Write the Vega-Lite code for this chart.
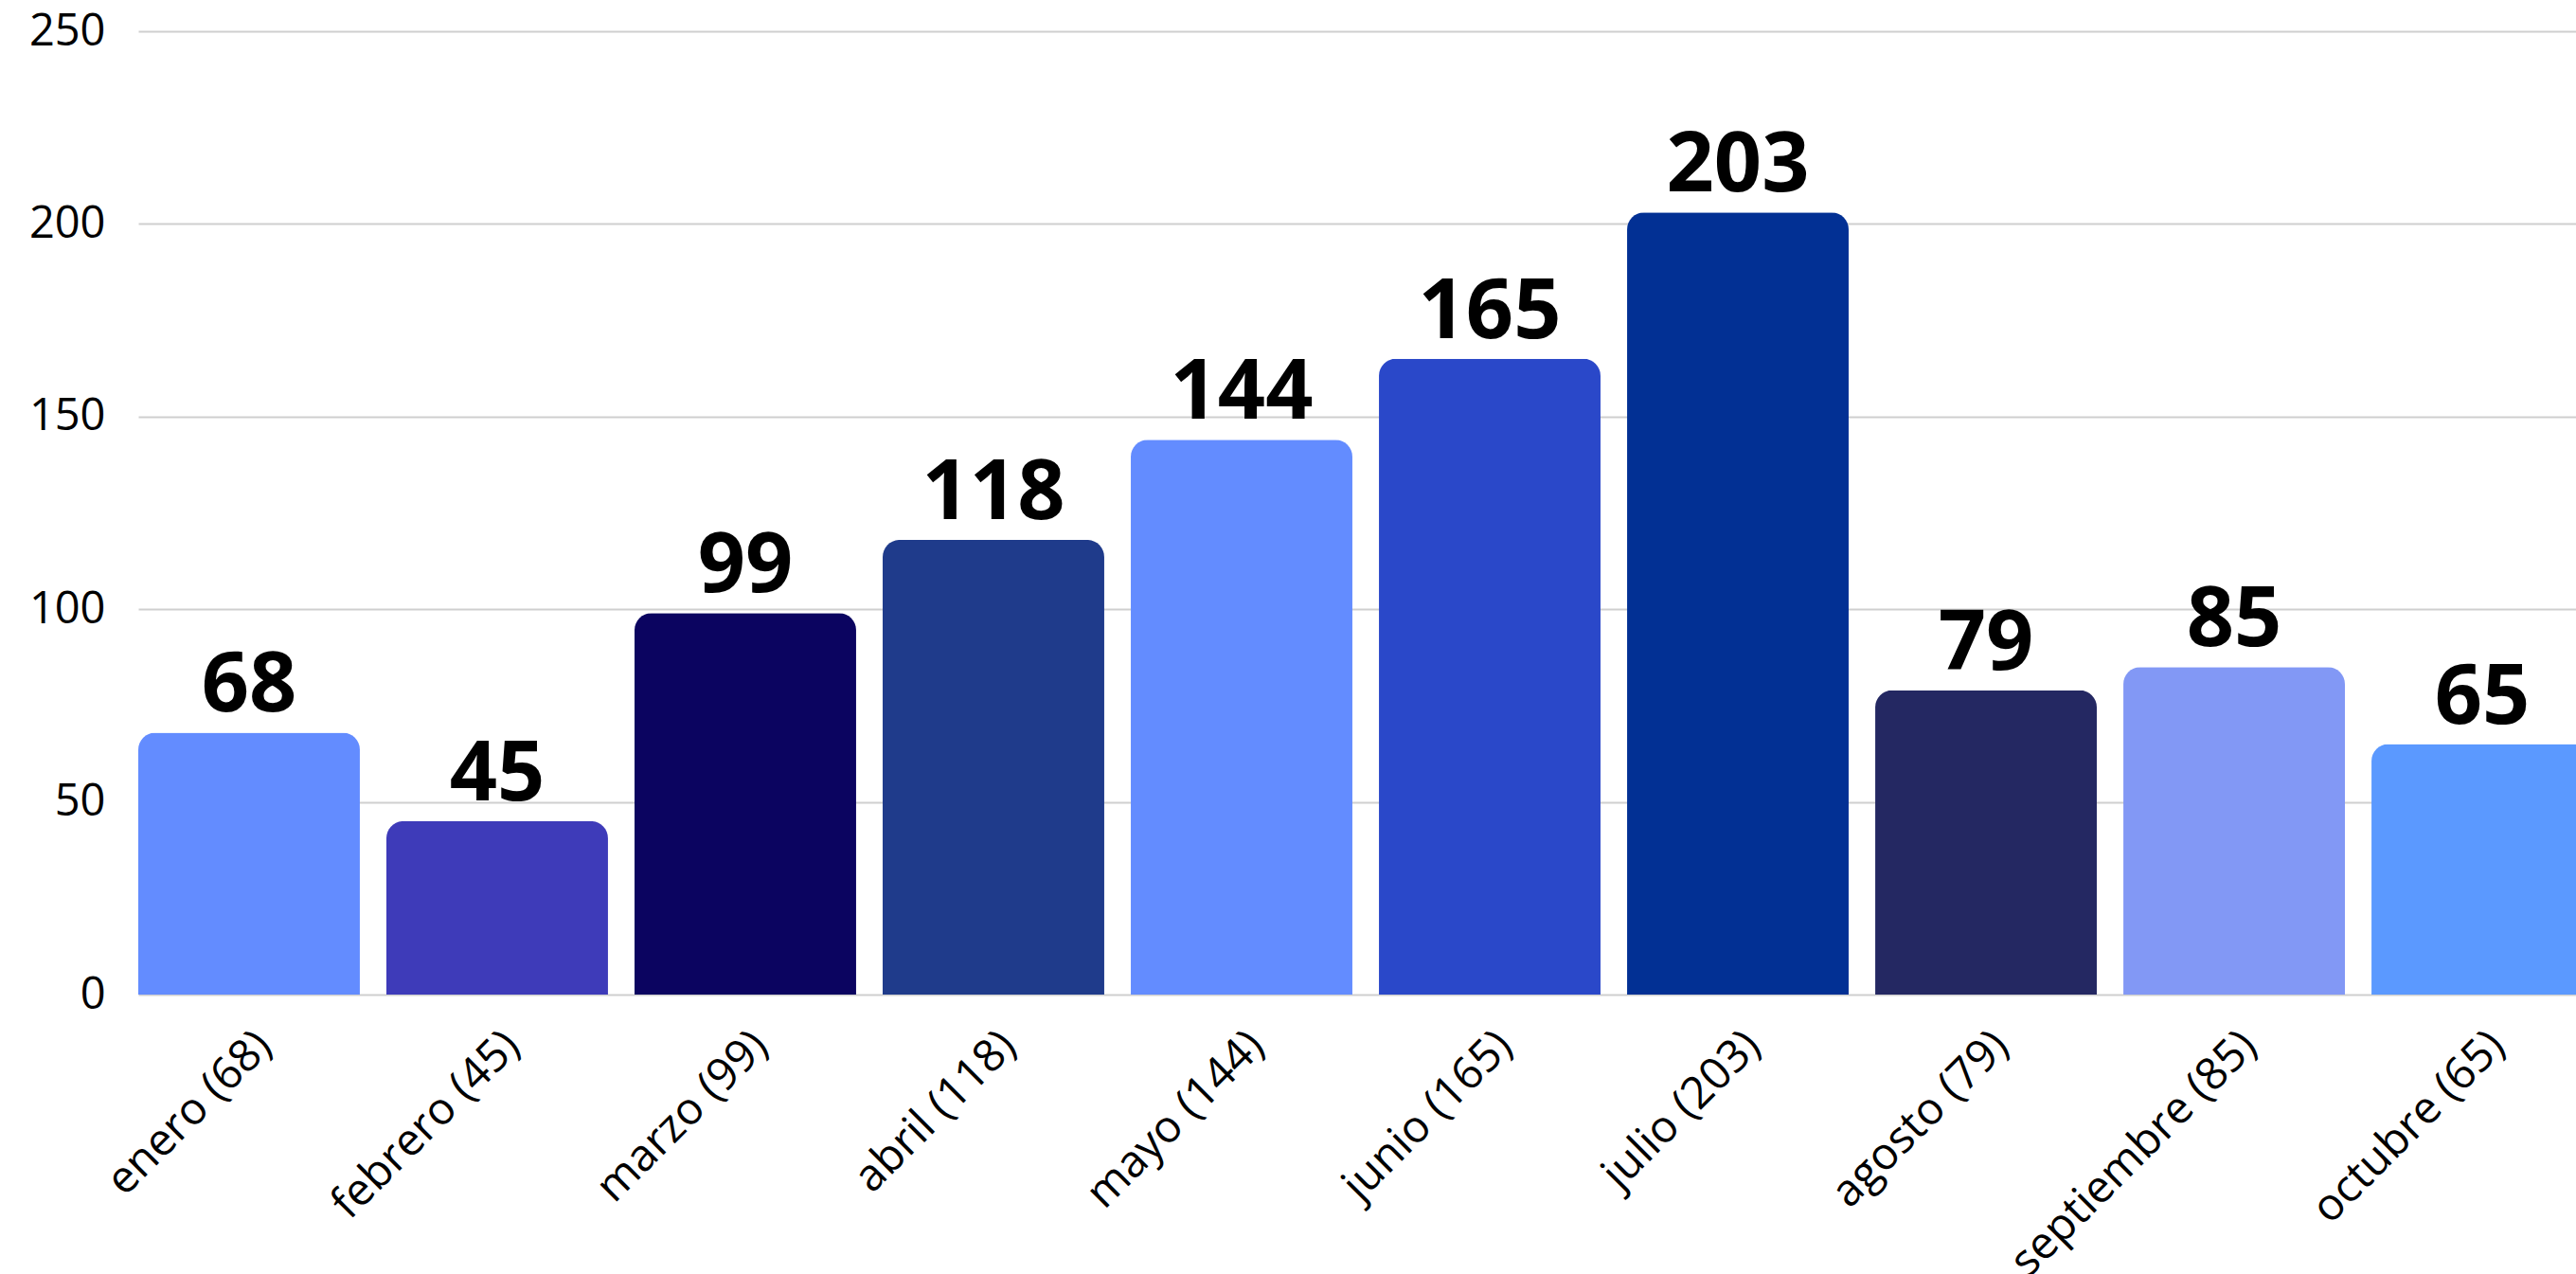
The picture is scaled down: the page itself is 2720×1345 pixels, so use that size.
{
  "$schema": "https://vega.github.io/schema/vega-lite/v6.json",
  "autosize": {"type": "none"},
  "padding": {"left": 146, "top": 33, "right": 0, "bottom": 295},
  "width": 2592,
  "height": 1017,
  "background": "white",
  "data": {
    "values": [
      {"mes": "enero (68)", "valor": 68, "color": "#638CFF"},
      {"mes": "febrero (45)", "valor": 45, "color": "#3E3BB9"},
      {"mes": "marzo (99)", "valor": 99, "color": "#0B0460"},
      {"mes": "abril (118)", "valor": 118, "color": "#1F3B8B"},
      {"mes": "mayo (144)", "valor": 144, "color": "#638CFF"},
      {"mes": "junio (165)", "valor": 165, "color": "#2A48C9"},
      {"mes": "julio (203)", "valor": 203, "color": "#023094"},
      {"mes": "agosto (79)", "valor": 79, "color": "#242862"},
      {"mes": "septiembre (85)", "valor": 85, "color": "#8298F5"},
      {"mes": "octubre (65)", "valor": 65, "color": "#5B99FF"}
    ]
  },
  "encoding": {
    "x": {
      "field": "mes",
      "type": "nominal",
      "sort": null,
      "scale": {"paddingInner": 0.107, "paddingOuter": 0},
      "axis": {
        "title": null,
        "labelAngle": -45,
        "labelFont": "Open Sans",
        "labelFontSize": 47,
        "labelColor": "#000000",
        "labelPadding": 30,
        "labelLimit": 0,
        "labelOverlap": false,
        "domain": false,
        "ticks": false,
        "grid": false
      }
    },
    "y": {
      "field": "valor",
      "type": "quantitative",
      "scale": {"domain": [0, 250], "nice": false},
      "axis": {
        "title": null,
        "values": [0, 50, 100, 150, 200, 250],
        "labelFont": "Open Sans",
        "labelFontSize": 47,
        "labelColor": "#000000",
        "labelPadding": 35,
        "domain": false,
        "ticks": false,
        "grid": true,
        "gridColor": "#cfcfcf",
        "gridWidth": 2
      }
    }
  },
  "layer": [
    {
      "mark": {"type": "bar", "cornerRadiusTopLeft": 18, "cornerRadiusTopRight": 18},
      "encoding": {
        "color": {"field": "color", "type": "nominal", "scale": null, "legend": null}
      }
    },
    {
      "mark": {
        "type": "text",
        "font": "Open Sans",
        "fontWeight": "bold",
        "fontSize": 88,
        "baseline": "alphabetic",
        "align": "center",
        "dy": -22,
        "color": "#000000"
      },
      "encoding": {
        "text": {"field": "valor", "type": "quantitative"}
      }
    }
  ],
  "config": {"view": {"stroke": null}}
}
